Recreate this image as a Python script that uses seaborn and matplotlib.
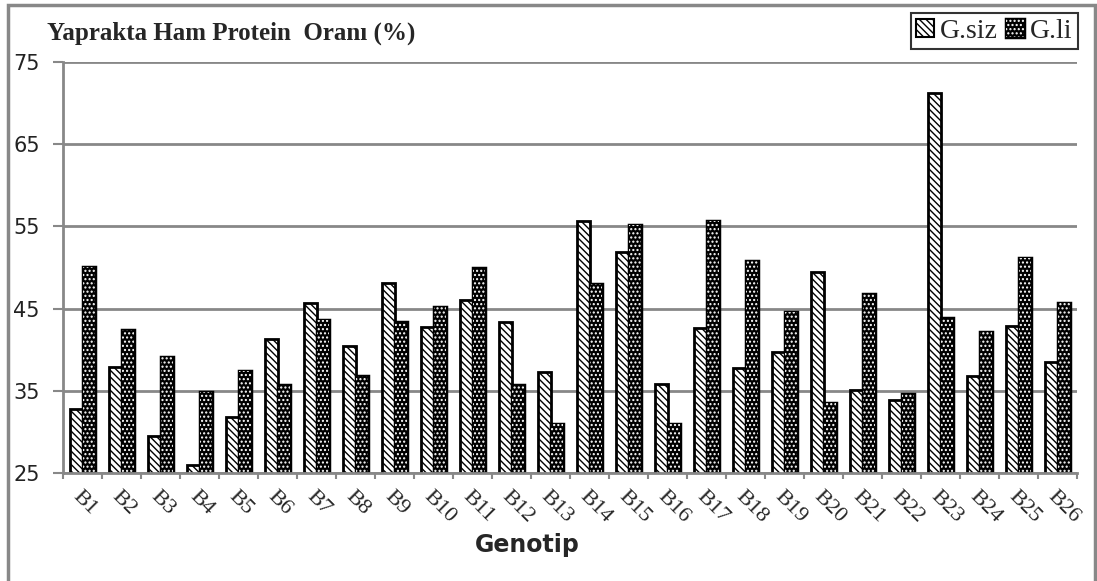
import matplotlib
matplotlib.use("Agg")
import matplotlib.pyplot as plt
import matplotlib.patheffects as pe
from matplotlib.patches import Rectangle
import numpy as np
import pandas as pd
import seaborn as sns

genotypes = [f"B{i}" for i in range(1, 27)]
g_siz = [32.8, 37.9, 29.5, 26.0, 31.8, 41.3, 45.7, 40.4, 48.1, 42.8, 46.1, 43.4, 37.3,
         55.6, 51.9, 35.8, 42.6, 37.8, 39.7, 49.4, 35.1, 33.9, 71.2, 36.8, 42.9, 38.5]
g_li = [50.1, 42.4, 39.1, 34.8, 37.4, 35.7, 43.6, 36.8, 43.4, 45.2, 49.9, 35.7, 31.0,
        48.0, 55.2, 31.0, 55.7, 50.8, 44.6, 33.5, 46.8, 34.6, 43.9, 42.2, 51.2, 45.7]
series_names = ["G.siz", "G.li"]
y_ticks = [25, 35, 45, 55, 65, 75]
title = "Yaprakta Ham Protein  Oranı (%)"
x_label = "Genotip"

df = pd.DataFrame({
    "Genotip": genotypes * 2,
    "value": g_siz + g_li,
    "series": [series_names[0]] * len(genotypes) + [series_names[1]] * len(genotypes),
})

sns.set_style("white")
plt.rcParams["hatch.linewidth"] = 1.0

W, H = 1097, 581
fig = plt.figure(figsize=(W / 100, H / 100), dpi=100)
ax = fig.add_axes([63 / W, 1 - 473 / H, (1077 - 63) / W, (473 - 62) / H])

sns.barplot(data=df, x="Genotip", y="value", hue="series", order=genotypes,
            hue_order=series_names, palette=["white", "black"], edgecolor="black",
            linewidth=2, width=0.64, ax=ax, legend=True, errorbar=None)


def style_siz(p):
    p.set_facecolor("white")
    p.set_edgecolor("black")
    p.set_linewidth(2)
    p.set_hatch("\\\\\\\\\\")


def style_li(p):
    p.set_facecolor("black")
    p.set_edgecolor("white")
    p.set_linewidth(0)
    p.set_hatch("....")
    p.set_path_effects([pe.Stroke(linewidth=2.5, foreground="black"), pe.Normal()])


for p in ax.containers[0]:
    style_siz(p)
for p in ax.containers[1]:
    style_li(p)

ax.set_ylim(25, 75)
ax.set_xlim(-0.5, len(genotypes) - 0.5)
ax.set_yticks(y_ticks)
ax.set_yticklabels([str(t) for t in y_ticks], fontsize=15, family="DejaVu Sans", color="#222222")
ax.yaxis.grid(True, color="#888888", linewidth=2)
ax.set_axisbelow(True)
ax.tick_params(axis="y", length=7.2, width=1.5, color="#888888", pad=9.4, left=True)

ax.set_xticks(np.arange(len(genotypes)))
ax.set_xticklabels(genotypes, rotation=-45, ha="left", va="top", rotation_mode="anchor",
                   fontsize=16, family="Liberation Serif")
ax.tick_params(axis="x", which="major", length=0, pad=10)
ax.set_xticks(np.arange(len(genotypes) + 1) - 0.5, minor=True)
ax.tick_params(axis="x", which="minor", length=4.3, width=1.5, color="#888888", bottom=True)

for side in ["top", "right"]:
    ax.spines[side].set_visible(False)
for side in ["left", "bottom"]:
    ax.spines[side].set_color("#888888")
    ax.spines[side].set_linewidth(2)
ax.set_xlabel("")
ax.set_ylabel("")

handles, labels = ax.get_legend_handles_labels()
ax.legend_.remove()
leg = fig.legend(handles, labels, loc="upper right", bbox_to_anchor=(1078 / W, 1 - 13 / H),
                 ncol=2, frameon=True, fancybox=False, edgecolor="black",
                 prop={"family": "Liberation Serif", "size": 20},
                 handlelength=0.65, handleheight=0.65, handletextpad=0.2,
                 columnspacing=0.3, borderpad=0.2, borderaxespad=0)
leg.get_frame().set_linewidth(1.5)
lh = leg.legend_handles
style_siz(lh[0])
lh[0].set_linewidth(1.5)
style_li(lh[1])

fig.text(47 / W, 1 - 33 / H, title, fontsize=18, fontweight="bold",
         family="Liberation Serif", va="center", ha="left")
fig.text(527 / W, 1 - 545 / H, x_label, fontsize=17, fontweight="bold",
         family="DejaVu Sans", va="center", ha="center")

fig.add_artist(Rectangle((8 / W, -0.05), (1095 - 8) / W, 1.05 - 5 / H,
                         transform=fig.transFigure, fill=False, edgecolor="#888888",
                         linewidth=2.5))

fig.savefig("out.png", dpi=100)
